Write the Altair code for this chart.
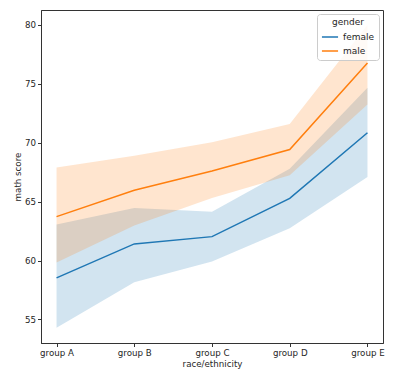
import altair as alt
import pandas as pd

groups = ["group A", "group B", "group C", "group D", "group E"]
female_mean = [58.53, 61.41, 62.03, 65.28, 70.85]
female_lo = [54.29, 58.16, 59.92, 62.74, 67.10]
female_hi = [63.05, 64.47, 64.15, 67.80, 74.66]
male_mean = [63.73, 65.96, 67.61, 69.43, 76.78]
male_lo = [59.83, 62.97, 65.30, 67.25, 73.25]
male_hi = [67.90, 68.90, 70.05, 71.60, 80.00]

rows = []
for i, g in enumerate(groups):
    rows.append({"race/ethnicity": g, "gender": "female", "mean": female_mean[i], "lo": female_lo[i], "hi": female_hi[i]})
    rows.append({"race/ethnicity": g, "gender": "male", "mean": male_mean[i], "lo": male_lo[i], "hi": male_hi[i]})
df = pd.DataFrame(rows)

FONT = "DejaVu Sans"
color_scale = alt.Scale(domain=["female", "male"], range=["#1f77b4", "#ff7f0e"])
legend = alt.Legend(title="gender", orient="none", legendX=276, legendY=4,
                    symbolType="stroke", symbolSize=260, symbolStrokeWidth=1.5,
                    symbolOpacity=1,
                    strokeColor="#cccccc", fillColor="rgba(255,255,255,0.8)", cornerRadius=3,
                    padding=4, rowPadding=-5, titleAnchor="middle", titleAlign="center",
                    titleFont=FONT, titleFontSize=9, titleFontWeight="normal",
                    titleColor="#262626", labelFont=FONT, labelFontSize=9,
                    labelColor="#262626", titlePadding=1)
x_enc = alt.X("race/ethnicity:N", sort=groups,
              scale=alt.Scale(type="point", padding=0.2),
              axis=alt.Axis(title="race/ethnicity", labelAngle=0))
y_scale = alt.Scale(domain=[53.0, 81.27], nice=False, zero=False)

base = alt.Chart(df)
band = base.mark_area(opacity=0.2).encode(
    x=x_enc,
    y=alt.Y("lo:Q", scale=y_scale, axis=alt.Axis(title="math score", values=[55, 60, 65, 70, 75, 80])),
    y2="hi:Q",
    color=alt.Color("gender:N", scale=color_scale, legend=legend),
)
line = base.mark_line(strokeWidth=1.5).encode(
    x=x_enc,
    y=alt.Y("mean:Q", scale=y_scale),
    color=alt.Color("gender:N", scale=color_scale, legend=legend),
)

chart = alt.layer(band, line).properties(
    width=342, height=333,
    autosize=alt.AutoSizeParams(type="none"),
    padding={"left": 33, "top": 2, "right": 4, "bottom": 30},
).configure_view(
    stroke="#333333", strokeWidth=1
).configure_axis(
    grid=False, domainColor="#333333", tickColor="#333333", tickSize=3.5,
    labelFont=FONT, labelFontSize=8.7, labelColor="#262626",
    titleFont=FONT, titleFontSize=8.7, titleFontWeight="normal", titleColor="#262626",
    labelPadding=2, titlePadding=2,
)

chart.save("out.html", embed_options={"renderer": "svg", "actions": False})
